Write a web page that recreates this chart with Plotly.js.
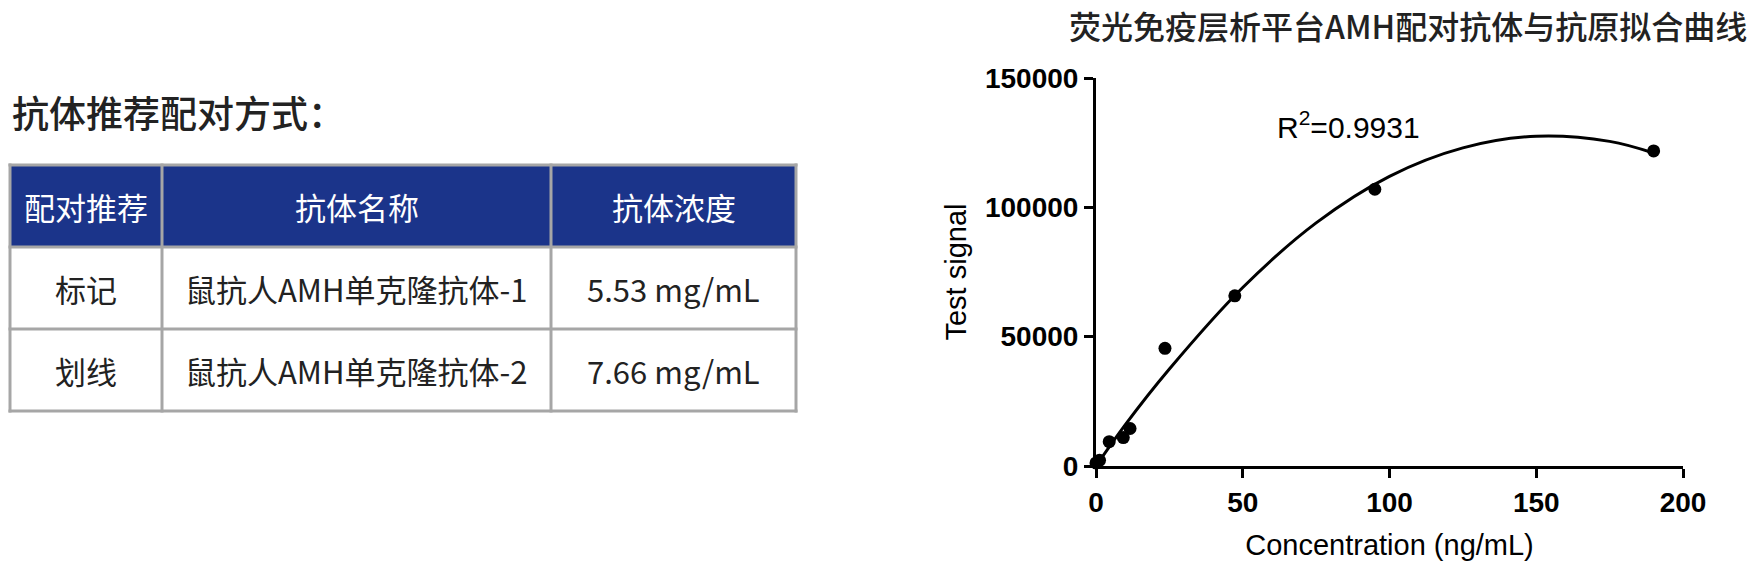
<!DOCTYPE html>
<html>
<head>
<meta charset="utf-8">
<script src="https://cdn.plot.ly/plotly-3.0.1.min.js"></script>
<style>
  html, body { margin: 0; padding: 0; background: #fff; }
  #chart { width: 1758px; height: 570px; }
</style>
</head>
<body>
<div id="chart"></div>
<script>
// table content
const tableHeader = ['配对推荐', '抗体名称', '抗体浓度'];
const pairing = ['标记', '划线'];
const antibodyNames = ['鼠抗人AMH单克隆抗体-1', '鼠抗人AMH单克隆抗体-2'];
const antibodyConc = ['5.53 mg/mL', '7.66 mg/mL'];

// measured points (ng/mL vs signal)
const pointConc = [0, 1.2, 4.5, 9.3, 11.6, 23.5, 47.3, 95, 190];
const pointSignal = [1200, 2200, 9400, 11000, 14500, 45500, 65800, 107000, 121800];

// fitted curve
const curveConc = [0, 10, 25, 50, 75, 100, 125, 150, 175, 190];
const curveSignal = [0, 16000, 37500, 69000, 94000, 112000, 123000, 127500, 125500, 121000];

const xTicks = [0, 50, 100, 150, 200];
const yTicks = [0, 50000, 100000, 150000];

const CJK = 'Noto Sans CJK SC, Noto Sans, sans-serif';
const ARIAL = 'Liberation Sans, Arial, sans-serif';
const W = 1758, H = 570;
const px = v => v / W;
const py = v => 1 - v / H;

// table geometry (pixels)
const colEdges = [10, 162, 551, 796];
const rowEdges = [165, 247, 329, 411];
const borderColor = '#a6a6a6';

const shapes = [];
const annotations = [];

// header background
shapes.push({type: 'rect', xref: 'paper', yref: 'paper', layer: 'below',
  x0: px(colEdges[0]), x1: px(colEdges[3]), y0: py(rowEdges[1]), y1: py(rowEdges[0]),
  fillcolor: '#1b348a', line: {width: 0}});
// grid lines
colEdges.forEach(c => shapes.push({type: 'line', xref: 'paper', yref: 'paper',
  x0: px(c), x1: px(c), y0: py(rowEdges[0] - 1.5), y1: py(rowEdges[3] + 1.5),
  line: {color: borderColor, width: 3}}));
rowEdges.forEach(r => shapes.push({type: 'line', xref: 'paper', yref: 'paper',
  x0: px(colEdges[0] - 1.5), x1: px(colEdges[3] + 1.5), y0: py(r), y1: py(r),
  line: {color: borderColor, width: 3}}));

const columns = [pairing, antibodyNames, antibodyConc];
function cellText(text, col, row, color) {
  annotations.push({xref: 'paper', yref: 'paper',
    x: px((colEdges[col] + colEdges[col + 1]) / 2),
    y: py((rowEdges[row] + rowEdges[row + 1]) / 2),
    xanchor: 'center', yanchor: 'middle', showarrow: false, text: text,
    font: {family: CJK, size: 31, color: color}});
}
tableHeader.forEach((h, c) => cellText(h, c, 0, '#ffffff'));
columns.forEach((col, c) => col.forEach((v, r) => cellText(v, c, r + 1, '#222222')));

annotations.push(
  {xref: 'paper', yref: 'paper', x: px(10), y: py(112), xanchor: 'left', yanchor: 'middle',
   text: '抗体推荐配对方式：', showarrow: false, font: {family: CJK, size: 37, color: '#222', weight: 500}},
  {xref: 'paper', yref: 'paper', x: px(1408), y: py(25), xanchor: 'center', yanchor: 'middle',
   text: '荧光免疫层析平台AMH配对抗体与抗原拟合曲线', showarrow: false, font: {family: CJK, size: 32, color: '#222', weight: 500}},
  {xref: 'x', yref: 'y', x: 61, y: 131800, xanchor: 'left', yanchor: 'middle',
   text: 'R<sup>2</sup>=0.9931', showarrow: false, font: {family: ARIAL, size: 30, color: '#000'}}
);

const curve = {
  type: 'scatter', mode: 'lines',
  x: curveConc, y: curveSignal,
  line: {color: '#000', width: 3, shape: 'spline'},
  cliponaxis: false, hoverinfo: 'skip'
};

const points = {
  type: 'scatter', mode: 'markers',
  x: pointConc, y: pointSignal,
  marker: {color: '#000', size: 13},
  cliponaxis: false
};

const axisBase = {
  showline: true, linewidth: 3, linecolor: '#000',
  ticks: 'outside', ticklen: 9, tickwidth: 3, tickcolor: '#000',
  showgrid: false, zeroline: false, fixedrange: true,
  tickfont: {family: ARIAL, size: 28, color: '#000', weight: 'bold'}
};

const layout = {
  width: W, height: H,
  margin: {l: 0, r: 0, t: 0, b: 0},
  paper_bgcolor: '#fff', plot_bgcolor: '#fff',
  showlegend: false,
  xaxis: Object.assign({}, axisBase, {
    domain: [px(1096), px(1683)],
    range: [0, 200],
    tickvals: xTicks,
    title: {text: 'Concentration (ng/mL)', font: {family: ARIAL, size: 29, color: '#000'}, standoff: 19}
  }),
  yaxis: Object.assign({}, axisBase, {
    domain: [py(466), py(78)],
    range: [0, 150000],
    tickvals: yTicks,
    tickformat: 'd',
    title: {text: 'Test signal', font: {family: ARIAL, size: 29, color: '#000'}, standoff: 10}
  }),
  shapes: shapes,
  annotations: annotations
};

Plotly.newPlot('chart', [curve, points], layout, {displayModeBar: false, staticPlot: true});
</script>
</body>
</html>
